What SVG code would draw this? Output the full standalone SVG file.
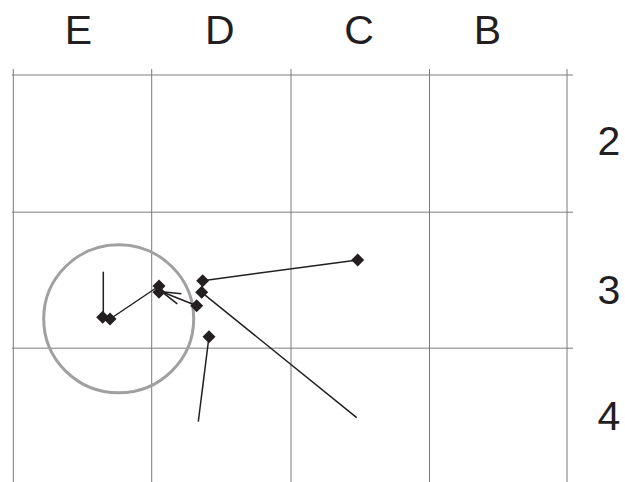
<svg xmlns="http://www.w3.org/2000/svg" width="625" height="482" viewBox="0 0 625 482">
<style>
.lbl{font-family:"Liberation Sans",Arial,sans-serif;font-size:41px;fill:#231f20;text-anchor:middle}
.gv{stroke:#7a7a7a;stroke-width:1;fill:none}
.gh{stroke:#a8a8a8;stroke-width:1.5;fill:none}
.cn{stroke:#231f20;stroke-width:1.5;fill:none}
.dm{fill:#231f20}
</style>
<defs>
<path id="dia" d="M0,-6.5 L6.5,0 L0,6.5 L-6.5,0 Z"/>
<marker id="arr" markerUnits="userSpaceOnUse" markerWidth="24" markerHeight="16" refX="20" refY="8" orient="auto">
<path d="M1,2.5 L20,8 L1,13.5" fill="none" stroke="#231f20" stroke-width="1.5"/>
</marker>
</defs>
<rect width="625" height="482" fill="#fff"/>
<g id="grid">
<line class="gh" x1="12" y1="75" x2="573" y2="75"/>
<line class="gh" x1="12" y1="212.3" x2="573" y2="212.3"/>
<line class="gh" x1="12" y1="348.3" x2="573" y2="348.3"/>
<line class="gv" x1="13.3" y1="69" x2="13.3" y2="482"/>
<line class="gv" x1="151.7" y1="69" x2="151.7" y2="482"/>
<line class="gv" x1="291" y1="69" x2="291" y2="482"/>
<line class="gv" x1="429.5" y1="69" x2="429.5" y2="482"/>
<line class="gv" x1="567" y1="69" x2="567" y2="482"/>
</g>
<g id="labels">
<text class="lbl" x="78.5" y="44">E</text>
<text class="lbl" x="219.7" y="44">D</text>
<text class="lbl" x="359" y="44">C</text>
<text class="lbl" x="487.5" y="44">B</text>
<text class="lbl" x="609" y="155">2</text>
<text class="lbl" x="609" y="303.5">3</text>
<text class="lbl" x="609" y="429.5">4</text>
</g>
<g id="circle">
<ellipse cx="118.7" cy="318.8" rx="75" ry="74" fill="none" stroke="#a0a0a0" stroke-width="3"/>
</g>
<g id="connectors">
<line class="cn" x1="103.3" y1="271.7" x2="103.3" y2="317.3"/>
<line class="cn" x1="110" y1="319" x2="159" y2="286"/>
<line class="cn" x1="196.7" y1="305.7" x2="161.7" y2="291.7" marker-end="url(#arr)"/>
<line class="cn" x1="202.7" y1="280.7" x2="357.7" y2="260"/>
<line class="cn" x1="201.7" y1="292.3" x2="356.7" y2="417.7"/>
<line class="cn" x1="209" y1="336.7" x2="198.3" y2="421.7"/>
</g>
<g id="n1"><use class="dm" href="#dia" x="102.7" y="317.3"/></g>
<g id="n2"><use class="dm" href="#dia" x="110" y="319"/></g>
<g id="n3"><use class="dm" href="#dia" x="159" y="286"/></g>
<g id="n4"><use class="dm" href="#dia" x="159" y="292.3"/></g>
<g id="n5"><use class="dm" href="#dia" x="202.7" y="280.7"/></g>
<g id="n6"><use class="dm" href="#dia" x="201.7" y="292.3"/></g>
<g id="n7"><use class="dm" href="#dia" x="196.7" y="305.7"/></g>
<g id="n8"><use class="dm" href="#dia" x="209" y="336.7"/></g>
<g id="n9"><use class="dm" href="#dia" x="357.7" y="260"/></g>
</svg>
